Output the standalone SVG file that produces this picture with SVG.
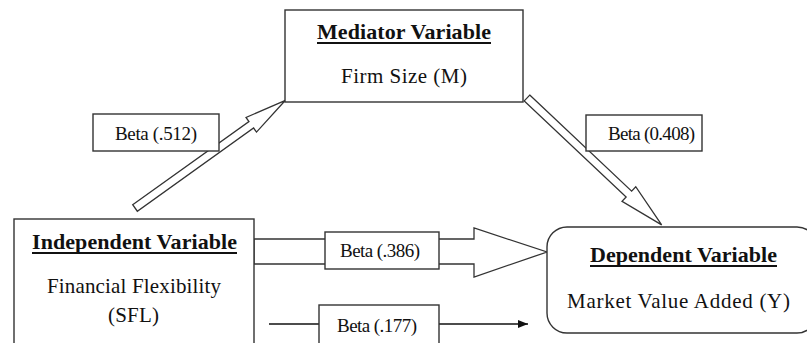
<svg xmlns="http://www.w3.org/2000/svg" width="807" height="343" viewBox="0 0 807 343">
<defs>
<style>
.box{fill:#fff;stroke:#333;stroke-width:1.4}
.blk{fill:#fff;stroke:#333;stroke-width:1.3}
.t{font-family:"Liberation Serif","Times New Roman",serif;fill:#111}
.h{font-size:22px;font-weight:bold}
.b{font-size:21px}
.s{font-size:19px}
.ul{stroke:#111;stroke-width:2}
.ln{stroke:#111;stroke-width:1.3;fill:none}
</style>
<marker id="ah" markerWidth="10" markerHeight="8" refX="10" refY="4" orient="auto" markerUnits="userSpaceOnUse">
<path d="M0,0 L10,4 L0,8 Z" fill="#111"/>
</marker>
</defs>
<rect width="807" height="343" fill="#fff"/>
<g id="connectors">
<polygon class="blk" transform="translate(135,208) rotate(-35.6)" points="0,-4 143,-4 143,-9 185,0 143,9 143,4 0,4"/>
<polygon class="blk" transform="translate(527,98) rotate(43.3)" points="0,-4 140,-4 140,-10 185,0 140,10 140,4 0,4"/>
<polygon class="blk" points="254,239 474,239 474,228 547,252 474,277 474,264 254,264"/>
<line class="ln" x1="269" y1="324" x2="319" y2="324"/>
<line class="ln" x1="439" y1="324" x2="528" y2="324" marker-end="url(#ah)"/>
<g id="lbl512"><rect class="box" x="93" y="114" width="126" height="37"/><text class="t s" x="115" y="140" textLength="82" lengthAdjust="spacing">Beta (.512)</text></g>
<g id="lbl408"><rect class="box" x="586" y="115" width="116" height="36"/><text class="t s" x="608" y="140" textLength="87" lengthAdjust="spacing">Beta (0.408)</text></g>
<g id="lbl386"><rect class="box" x="325" y="232" width="114" height="37"/><text class="t s" x="340" y="257" textLength="80" lengthAdjust="spacing">Beta (.386)</text></g>
<g id="lbl177"><rect class="box" x="319" y="305" width="120" height="42"/><text class="t s" x="337" y="332" textLength="80" lengthAdjust="spacing">Beta (.177)</text></g>
</g>
<g id="mediator">
<rect class="box" x="285" y="10" width="238" height="92"/>
<text class="t h" x="317" y="39" textLength="174" lengthAdjust="spacing">Mediator Variable</text>
<line class="ul" x1="317" y1="43" x2="491" y2="43"/>
<text class="t b" x="341" y="83" textLength="126" lengthAdjust="spacing">Firm  Size  (M)</text>
</g>
<g id="independent">
<rect class="box" x="14" y="219" width="240" height="130"/>
<text class="t h" x="32" y="249" textLength="205" lengthAdjust="spacing">Independent  Variable</text>
<line class="ul" x1="32" y1="253" x2="237" y2="253"/>
<text class="t b" x="47" y="293" textLength="174" lengthAdjust="spacing">Financial  Flexibility</text>
<text class="t b" x="108" y="322" textLength="51" lengthAdjust="spacing">(SFL)</text>
</g>
<g id="dependent">
<rect class="box" x="547" y="227" width="270" height="106" rx="20" ry="20"/>
<text class="t h" x="590" y="262" textLength="187" lengthAdjust="spacing">Dependent Variable</text>
<line class="ul" x1="590" y1="266" x2="777" y2="266"/>
<text class="t b" x="567" y="308" textLength="223" lengthAdjust="spacing">Market Value  Added (Y)</text>
</g>
</svg>
